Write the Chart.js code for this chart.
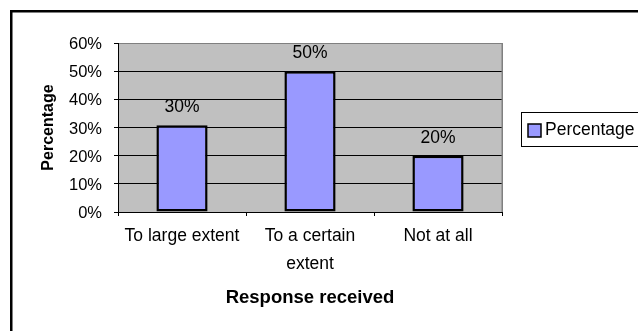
<!DOCTYPE html>
<html><head><meta charset="utf-8">
<script src="https://cdn.jsdelivr.net/npm/chart.js@4/dist/chart.umd.min.js"></script>
<style>html,body{margin:0;padding:0;background:#fff}canvas{display:block}</style>
</head><body>
<canvas id="c" width="638" height="331"></canvas>
<script>
const categories = ["To large extent", ["To a certain", "extent"], "Not at all"];
const percentages = [30.8, 50, 20];
const valueLabels = ["30%", "50%", "20%"];
const yMin = 0, yMax = 60, yStep = 10;
const seriesName = "Percentage";
const xTitle = "Response received";
const yTitle = "Percentage";

const FONT = '"Liberation Sans", Arial, sans-serif';
Chart.defaults.font.family = FONT;
Chart.defaults.color = '#000';

const decor = {
  id: 'decor',
  beforeDraw(chart) {
    const {ctx, chartArea: a} = chart;
    ctx.save();
    ctx.fillStyle = '#C0C0C0';
    ctx.fillRect(a.left, a.top, a.right - a.left, a.bottom - a.top);
    ctx.strokeStyle = '#000';
    ctx.lineWidth = 2.5;
    ctx.strokeRect(11.25, 11.25, 900, 600);
    ctx.restore();
  },
  beforeDatasetsDraw(chart) {
    const {ctx, chartArea: a} = chart;
    ctx.save();
    ctx.strokeStyle = '#808080';
    ctx.lineWidth = 1.5;
    ctx.beginPath();
    const x = Math.round(a.right) + 0.25;
    ctx.moveTo(x, a.top);
    ctx.lineTo(x, a.bottom);
    ctx.stroke();
    ctx.restore();
  },
  afterDatasetsDraw(chart) {
    const {ctx} = chart;
    const meta = chart.getDatasetMeta(0);
    ctx.save();
    ctx.fillStyle = '#000';
    ctx.font = '17.5px ' + FONT;
    ctx.textAlign = 'center';
    ctx.textBaseline = 'alphabetic';
    meta.data.forEach((bar, i) => {
      ctx.fillText(valueLabels[i], bar.x, bar.y - 13);
    });
    ctx.restore();
  },
  afterDraw(chart) {
    const {ctx} = chart;
    const ds = chart.data.datasets[0];
    ctx.save();
    ctx.strokeStyle = '#000';
    ctx.lineWidth = 1;
    ctx.strokeRect(521.5, 112.5, 300, 34);
    ctx.fillStyle = ds.backgroundColor;
    ctx.fillRect(528, 124, 13, 13);
    ctx.lineWidth = 1.5;
    ctx.strokeRect(528, 124, 13, 13);
    ctx.fillStyle = '#000';
    ctx.font = '17.5px ' + FONT;
    ctx.textAlign = 'left';
    ctx.textBaseline = 'middle';
    ctx.fillText(ds.label, 545, 130.5);
    ctx.restore();
  }
};

new Chart(document.getElementById('c'), {
  type: 'bar',
  data: {
    labels: categories,
    datasets: [{
      label: seriesName,
      data: percentages,
      backgroundColor: '#9999FF',
      borderColor: '#000',
      borderWidth: 2.5,
      borderSkipped: false,
      barPercentage: 0.4,
      categoryPercentage: 1
    }]
  },
  options: {
    responsive: false,
    animation: false,
    layout: {padding: {left: 0, top: 43, right: 136, bottom: 0}},
    plugins: {legend: {display: false}, tooltip: {enabled: false}},
    scales: {
      x: {
        offset: true,
        afterFit: s => { s.height = 119; },
        grid: {offset: true, drawOnChartArea: false, tickLength: 4, color: '#000'},
        border: {color: '#000', width: 1},
        ticks: {font: {size: 17.5, lineHeight: 1.55}, padding: 7, maxRotation: 0, autoSkip: false, color: '#000'},
        title: {display: true, text: xTitle, font: {size: 18.5, weight: 'bold'}, padding: {top: 0, bottom: 22}, color: '#000'}
      },
      y: {
        min: yMin, max: yMax,
        afterFit: s => { s.width = 118; },
        grid: {
          color: c => (c.tick && c.tick.value === yMax) ? '#808080' : '#000',
          tickColor: '#000', tickLength: 4, lineWidth: 1
        },
        border: {color: '#000', width: 1},
        ticks: {stepSize: yStep, callback: v => v + '%', font: {size: 16.5}, padding: 12, labelOffset: 1.5, color: '#000'},
        title: {display: true, text: yTitle, font: {size: 16, weight: 'bold'}, padding: {top: 39, bottom: 0}, color: '#000'}
      }
    }
  },
  plugins: [decor]
});
</script>
</body></html>
